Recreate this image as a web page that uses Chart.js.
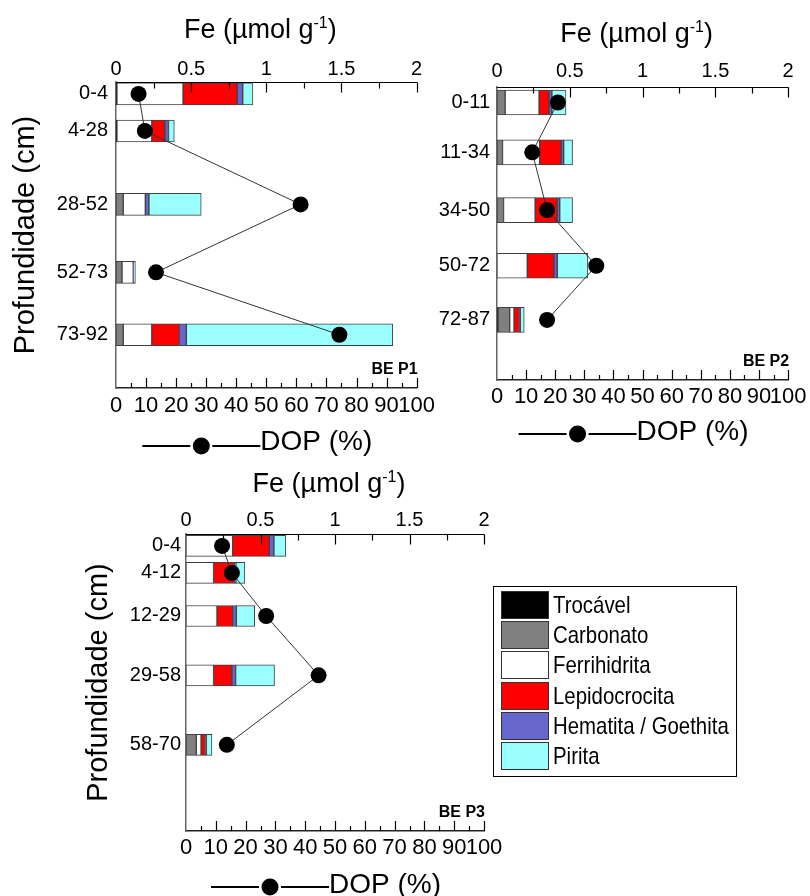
<!DOCTYPE html>
<html>
<head>
<meta charset="utf-8">
<title>Fe - BE P1, P2, P3</title>
<script src="https://cdn.jsdelivr.net/npm/chart.js@4.4.1/dist/chart.umd.min.js"></script>
<style>
  body { margin: 0; background: #fff; width: 810px; height: 896px; position: relative; overflow: hidden;
         font-family: 'Liberation Sans', Arial, sans-serif; }
  canvas { position: absolute; }
  #p1 { left: 0; top: 0; }
  #p2 { left: 430px; top: 0; }
  #p3 { left: 70px; top: 455px; }
  #legend { position: absolute; left: 493px; top: 586px; width: 244px; height: 191px;
            border: 1.5px solid #000; box-sizing: border-box; padding-top: 4px; }
  #legend .row { position: relative; height: 30.2px; }
  #legend .sw { position: absolute; left: 6.5px; top: 0; width: 48px; height: 28px;
                border: 1px solid #333; box-sizing: border-box; }
  #legend .tx { position: absolute; left: 58.5px; top: 0; font-size: 24px; line-height: 28px;
                white-space: nowrap; transform: scaleX(0.85); transform-origin: left center; color: #000; }
</style>
</head>
<body>
<canvas id="p1" width="440" height="460"></canvas>
<canvas id="p2" width="380" height="460"></canvas>
<canvas id="p3" width="440" height="441"></canvas>
<div id="legend"></div>
<script>
const FONT = "'Liberation Sans', Arial, sans-serif";

// Fe fractions (stack order, left to right)
const components = ['Trocável', 'Carbonato', 'Ferrihidrita', 'Lepidocrocita', 'Hematita / Goethita', 'Pirita'];
const componentColors = ['#000000', '#808080', '#ffffff', '#ff0000', '#6666cc', '#99ffff'];

// BE P1
const p1Layers = ['0-4', '4-28', '28-52', '52-73', '73-92'];
const p1Depth = [3.9, 16, 40, 62.2, 82.6];          // plotted depth (cm)
const p1Trocavel = [0.006, 0.006, 0, 0, 0];
const p1Carbonato = [0, 0, 0.048, 0.04, 0.048];
const p1Ferri = [0.44, 0.232, 0.147, 0.075, 0.19];
const p1Lepido = [0.36, 0.087, 0, 0, 0.184];
const p1Hemat = [0.037, 0.024, 0.024, 0.004, 0.046];
const p1Pirita = [0.068, 0.039, 0.348, 0.01, 1.373];
const p1Dop = [7.5, 9.6, 61.4, 13.3, 74.3];

// BE P2
const p2Layers = ['0-11', '11-34', '34-50', '50-72', '72-87'];
const p2Depth = [5.3, 22.3, 42, 61, 79.5];
const p2Trocavel = [0, 0, 0, 0, 0.01];
const p2Carbonato = [0.056, 0.038, 0.045, 0, 0.077];
const p2Ferri = [0.233, 0.255, 0.217, 0.208, 0.03];
const p2Lepido = [0.068, 0.147, 0.151, 0.183, 0.038];
const p2Hemat = [0.02, 0.018, 0.018, 0.023, 0.005];
const p2Pirita = [0.097, 0.061, 0.088, 0.21, 0.027];
const p2Dop = [20.9, 12.1, 17.2, 34.1, 17.2];

// BE P3
const p3Layers = ['0-4', '4-12', '12-29', '29-58', '58-70'];
const p3Depth = [4, 13.1, 27.6, 47.6, 71];
const p3Trocavel = [0, 0, 0, 0, 0];
const p3Carbonato = [0, 0, 0, 0, 0.069];
const p3Ferri = [0.313, 0.185, 0.208, 0.185, 0.032];
const p3Lepido = [0.246, 0.139, 0.105, 0.123, 0.029];
const p3Hemat = [0.031, 0.011, 0.025, 0.025, 0.006];
const p3Pirita = [0.08, 0.06, 0.123, 0.261, 0.038];
const p3Dop = [12.1, 15.4, 26.9, 44.5, 13.7];

function buildDatasets(fractions, depth, dop, thickness) {
  const sets = fractions.map((vals, k) => ({
    type: 'bar',
    label: components[k],
    xAxisID: 'fe',
    yAxisID: 'y',
    data: vals.map((v, i) => ({ x: v ? v : null, y: depth[i] })),
    backgroundColor: componentColors[k],
    borderColor: '#404040',
    borderWidth: 1,
    borderSkipped: false,
    barThickness: thickness,
    order: 2
  }));
  sets.push({
    type: 'line',
    label: 'DOP (%)',
    xAxisID: 'dop',
    yAxisID: 'y',
    data: dop.map((v, i) => ({ x: v, y: depth[i] })),
    borderColor: '#333',
    borderWidth: 1,
    pointRadius: 8,
    pointBackgroundColor: '#000',
    pointBorderColor: '#000',
    pointBorderWidth: 0,
    order: 1
  });
  return sets;
}

// top axis line, inward ticks, Fe title with superscript, DOP key and panel tag
const panelDecor = {
  id: 'panelDecor',
  afterDraw(chart, args, opts) {
    const ctx = chart.ctx;
    const { left, right, top, bottom } = chart.chartArea;
    const fe = chart.scales.fe, dop = chart.scales.dop;
    const mid = (left + right) / 2;
    ctx.save();
    ctx.strokeStyle = '#000';
    ctx.fillStyle = '#000';

    const yTop = Math.round(top) + 0.5;
    ctx.lineWidth = 1.2;
    ctx.beginPath();
    ctx.moveTo(left, yTop);
    ctx.lineTo(right + 0.5, yTop);
    for (let q = 1; q <= 8; q++) {
      const x = Math.round(fe.getPixelForValue(q * 0.25)) + 0.5;
      ctx.moveTo(x, yTop);
      ctx.lineTo(x, yTop + (q % 2 === 0 ? 10 : 6));
    }
    for (let v = 5; v <= 100; v += 5) {
      const x = Math.round(dop.getPixelForValue(v)) + 0.5;
      ctx.moveTo(x, bottom);
      ctx.lineTo(x, bottom - (v % 10 === 0 ? 10 : 5));
    }
    ctx.stroke();

    ctx.textBaseline = 'alphabetic';
    ctx.textAlign = 'left';

    // Fe (µmol g-1)
    const big = `27px ${FONT}`, small = `16px ${FONT}`;
    ctx.font = big;
    const a = 'Fe (µmol g', b = ')';
    const wa = ctx.measureText(a).width, wb = ctx.measureText(b).width;
    ctx.font = small;
    const ws = ctx.measureText('-1').width;
    let x = mid - 6 - (wa + ws + wb) / 2;
    const ty = top - opts.feGap;
    ctx.font = big;
    ctx.fillText(a, x, ty);
    x += wa;
    ctx.font = small;
    ctx.fillText('-1', x, ty - 10);
    x += ws;
    ctx.font = big;
    ctx.fillText(b, x, ty);

    // ——●—— DOP (%)
    ctx.font = `28px ${FONT}`;
    const label = 'DOP (%)';
    const tw = ctx.measureText(label).width;
    const x0 = mid - 9 - (118 + tw) / 2;
    const ly = bottom + opts.keyLine;
    ctx.lineWidth = 2;
    ctx.beginPath();
    ctx.moveTo(x0, ly);
    ctx.lineTo(x0 + 48, ly);
    ctx.moveTo(x0 + 70, ly);
    ctx.lineTo(x0 + 118, ly);
    ctx.stroke();
    ctx.beginPath();
    ctx.arc(x0 + 59, ly, 8.5, 0, Math.PI * 2);
    ctx.fill();
    ctx.fillText(label, x0 + 118, bottom + opts.keyText);

    // panel tag
    ctx.font = `bold 16px ${FONT}`;
    ctx.textAlign = 'right';
    ctx.fillText(opts.tag, right + 1, bottom - 14);
    ctx.restore();
  }
};

function makePanel(id, cfg) {
  new Chart(document.getElementById(id), {
    data: { datasets: buildDatasets(cfg.fractions, cfg.depth, cfg.dop, cfg.thickness) },
    plugins: [panelDecor],
    options: {
      responsive: false,
      animation: false,
      indexAxis: 'y',
      layout: { padding: { left: 0, top: 0, right: cfg.padRight, bottom: 0 } },
      plugins: {
        legend: { display: false },
        tooltip: { enabled: false },
        panelDecor: { tag: cfg.tag, feGap: cfg.feGap, keyLine: cfg.keyLine, keyText: cfg.keyText }
      },
      scales: {
        fe: {
          type: 'linear',
          position: 'top',
          min: 0,
          max: 2,
          stacked: true,
          grid: { display: false, drawTicks: false },
          border: { display: false },
          ticks: {
            stepSize: 0.5,
            autoSkip: false,
            maxRotation: 0,
            minRotation: 0,
            padding: cfg.fePad,
            color: '#000',
            font: { family: FONT, size: 20 },
            callback: v => String(v)
          },
          afterFit: s => { s.height = cfg.topH; }
        },
        dop: {
          type: 'linear',
          position: 'bottom',
          min: 0,
          max: 100,
          grid: { display: false, drawTicks: false },
          border: { color: '#222', width: 1.5 },
          ticks: {
            stepSize: 10,
            autoSkip: false,
            maxRotation: 0,
            minRotation: 0,
            padding: cfg.dopPad,
            color: '#000',
            font: { family: FONT, size: 22 }
          },
          afterFit: s => { s.height = cfg.bottomH; }
        },
        y: {
          type: 'linear',
          position: 'left',
          reverse: true,
          offset: false,
          min: 0,
          max: 100,
          stacked: true,
          grid: { display: false, drawTicks: false, offset: false },
          border: { color: '#666', width: 1.5 },
          afterBuildTicks: s => { s.ticks = cfg.depth.map(v => ({ value: v })); },
          ticks: {
            autoSkip: false,
            padding: cfg.labelPad,
            color: '#000',
            font: { family: FONT, size: 20 },
            callback: (v, i) => cfg.layers[i]
          },
          title: {
            display: cfg.yTitle,
            text: 'Profundidade (cm)',
            color: '#000',
            font: { family: FONT, size: 29 },
            padding: { top: cfg.titlePad, bottom: 0 }
          },
          afterFit: s => { s.width = cfg.leftW; }
        }
      }
    }
  });
}

makePanel('p1', {
  layers: p1Layers, depth: p1Depth, dop: p1Dop, tag: 'BE P1',
  fractions: [p1Trocavel, p1Carbonato, p1Ferri, p1Lepido, p1Hemat, p1Pirita],
  thickness: 22, leftW: 116, topH: 82, bottomH: 72, padRight: 18,
  labelPad: 8, fePad: 1, dopPad: 5, yTitle: true, titlePad: 9,
  feGap: 44, keyLine: 58, keyText: 62
});

makePanel('p2', {
  layers: p2Layers, depth: p2Depth, dop: p2Dop, tag: 'BE P2',
  fractions: [p2Trocavel, p2Carbonato, p2Ferri, p2Lepido, p2Hemat, p2Pirita],
  thickness: 25, leftW: 67, topH: 87, bottomH: 80, padRight: 18,
  labelPad: 7, fePad: 4, dopPad: 3.5, yTitle: false, titlePad: 0,
  feGap: 45, keyLine: 54, keyText: 60
});

makePanel('p3', {
  layers: p3Layers, depth: p3Depth, dop: p3Dop, tag: 'BE P3',
  fractions: [p3Trocavel, p3Carbonato, p3Ferri, p3Lepido, p3Hemat, p3Pirita],
  thickness: 21, leftW: 116, topH: 79, bottomH: 65, padRight: 26,
  labelPad: 5, fePad: 2, dopPad: 4, yTitle: true, titlePad: 12,
  feGap: 42, keyLine: 56, keyText: 62
});

// legend box
const legend = document.getElementById('legend');
components.forEach((name, k) => {
  const row = document.createElement('div');
  row.className = 'row';
  const sw = document.createElement('span');
  sw.className = 'sw';
  sw.style.background = componentColors[k];
  const tx = document.createElement('span');
  tx.className = 'tx';
  tx.textContent = name;
  row.appendChild(sw);
  row.appendChild(tx);
  legend.appendChild(row);
});
</script>
</body>
</html>
